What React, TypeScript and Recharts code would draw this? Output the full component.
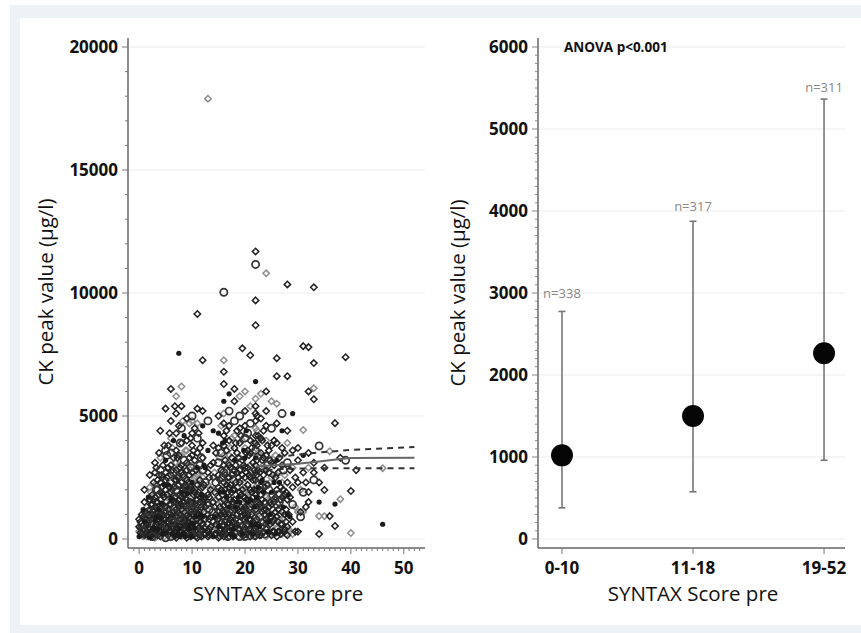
import React from 'react';
import { ScatterChart, Scatter, XAxis, YAxis, ReferenceLine, ErrorBar } from 'recharts';

const FONT = '"Open Sans", "DejaVu Sans", sans-serif';

// SYNTAX score column -> CK peak values (µg/l)
const syntaxColumns: [number, number[]][] = [
  [0, [100, 300, 500, 800]],
  [0.5, [200, 600, 1000]],
  [1, [150, 400, 700, 1100, 1500, 2000]],
  [1.5, [100, 300, 600, 900, 1300]],
  [2, [50, 200, 400, 650, 900, 1200, 1600, 2100, 2600]],
  [2.5, [100, 350, 700, 1000, 1400, 1800]],
  [3, [50, 250, 500, 750, 1000, 1150, 1300, 1700, 2200, 2700, 3100]],
  [3.5, [150, 400, 800, 1100, 1500, 2000, 2400]],
  [4, [100, 300, 550, 850, 1050, 1250, 1600, 1900, 2300, 2800, 3300, 4400]],
  [4.5, [200, 450, 700, 1000, 1400, 1800, 2500, 3000]],
  [5, [50, 250, 500, 800, 1100, 1300, 1500, 2000, 2400, 2700, 3200, 3600, 5300]],
  [5.5, [150, 400, 650, 900, 1200, 1700, 2200, 2900, 3800]],
  [6, [100, 300, 600, 850, 1000, 1400, 1650, 1900, 2300, 2600, 3000, 3500, 4100, 4800, 6100]],
  [6.5, [200, 500, 750, 1100, 1500, 1800, 2100, 2700, 3300, 4000]],
  [7, [50, 250, 450, 700, 950, 1200, 1500, 1700, 2000, 2400, 2800, 3100, 3600, 4300, 5100, 5800]],
  [7.5, [150, 400, 600, 900, 1300, 1600, 2200, 2600, 3400, 4600, 7550]],
  [8, [100, 300, 550, 800, 1000, 1200, 1400, 1700, 1900, 2300, 2700, 3000, 3400, 3900, 4500, 5400, 6200]],
  [8.5, [200, 450, 750, 1100, 1500, 1800, 2100, 2500, 3200, 4200]],
  [9, [50, 250, 500, 700, 950, 1150, 1350, 1600, 1850, 2100, 2400, 2800, 3100, 3600, 4000, 4900]],
  [9.5, [150, 400, 650, 900, 1250, 1550, 2000, 2600, 3300, 4700]],
  [10, [100, 300, 500, 750, 1000, 1200, 1450, 1700, 2000, 2300, 2700, 3000, 3400, 3800, 4300, 4800, 5000]],
  [10.5, [200, 450, 800, 1100, 1400, 1900, 2500, 3200, 4500]],
  [11, [50, 250, 550, 800, 1050, 1300, 1600, 1800, 2200, 2600, 2900, 3500, 4100, 4700, 5300, 9150]],
  [11.5, [150, 400, 700, 1000, 1500, 2000, 2400, 3000, 3700]],
  [12, [100, 350, 600, 900, 1200, 1500, 1750, 2100, 2500, 2800, 3300, 3900, 4600, 5200, 7270]],
  [12.5, [200, 500, 800, 1300, 1700, 2300, 2900]],
  [13, [100, 300, 600, 1000, 1400, 1800, 2200, 2700, 3600, 4800, 17900]],
  [13.5, [200, 500, 900, 1300, 2000, 3000]],
  [14, [100, 350, 700, 1100, 1500, 2000, 2500, 3100, 3800, 4400]],
  [14.5, [200, 600, 1000, 1600, 2300, 3500]],
  [15, [50, 250, 500, 800, 1100, 1400, 1700, 2100, 2600, 3100, 3700, 4300, 5000]],
  [15.5, [150, 400, 700, 1000, 1500, 2000, 2800, 3500, 4600]],
  [16, [100, 300, 550, 850, 1100, 1350, 1600, 1900, 2300, 2700, 3000, 3400, 3800, 4200, 4700, 5100, 5600, 6300, 6800, 7270, 10030]],
  [16.5, [200, 450, 750, 1200, 1700, 2200, 2900, 3600, 4400]],
  [17, [100, 350, 650, 1000, 1300, 1700, 2100, 2500, 3000, 3400, 4000, 4600, 5200, 5900]],
  [17.5, [200, 500, 900, 1400, 1900, 2600, 3300, 4100]],
  [18, [100, 300, 600, 900, 1200, 1600, 2000, 2400, 2800, 3200, 3700, 4200, 4800, 5600, 6100]],
  [18.5, [250, 600, 1000, 1500, 2100, 2700, 3500, 4400]],
  [19, [100, 400, 700, 1100, 1500, 1900, 2300, 2800, 3300, 3900, 4500, 5000, 5800]],
  [19.5, [200, 550, 950, 1400, 2000, 2600, 3200, 4000, 7750]],
  [20, [100, 350, 650, 1000, 1300, 1700, 2100, 2500, 2900, 3300, 3700, 4100, 4600, 5200, 6000]],
  [20.5, [250, 600, 1000, 1500, 2200, 2900, 3600, 4300]],
  [21, [100, 400, 800, 1200, 1600, 2000, 2500, 3000, 3500, 4000, 4700, 5400, 7470]],
  [21.5, [200, 600, 1100, 1700, 2400, 3100, 3900]],
  [22, [100, 300, 600, 900, 1200, 1500, 1800, 2100, 2400, 2700, 3000, 3300, 3600, 3900, 4200, 4500, 4800, 5100, 5400, 5700, 6400, 8690, 9700, 11160, 11690]],
  [22.5, [200, 550, 1000, 1500, 2100, 2800, 3500, 4200]],
  [23, [150, 450, 850, 1300, 1800, 2300, 2900, 3500, 4100, 4900, 5900]],
  [23.5, [300, 700, 1200, 1900, 2600, 3300, 4400]],
  [24, [100, 400, 800, 1200, 1700, 2200, 2800, 3400, 4000, 4600, 5200, 6000, 10800]],
  [24.5, [250, 700, 1300, 2000, 2700, 3600]],
  [25, [150, 500, 900, 1400, 1900, 2500, 3100, 3800, 4500, 5600]],
  [25.5, [300, 800, 1500, 2300, 3000, 4000]],
  [26, [100, 450, 900, 1400, 2000, 2600, 3200, 3900, 4700, 5500, 6620, 7350]],
  [26.5, [300, 800, 1500, 2300, 3300]],
  [27, [200, 600, 1100, 1700, 2300, 3000, 3700, 4400, 5100]],
  [27.5, [400, 1000, 1800, 2600, 3500]],
  [28, [150, 500, 1000, 1600, 2300, 3100, 3900, 4400, 6620, 10350]],
  [28.5, [300, 900, 1700, 2800]],
  [29, [200, 700, 1400, 2100, 2900, 3600, 5100]],
  [30, [300, 1100, 2300, 3200, 3700]],
  [31, [1100, 1900, 2700, 3400, 4430, 7840]],
  [32, [1500, 1910, 2900, 3500, 6000, 7800]],
  [33, [2400, 2700, 3100, 5680, 6130, 7150, 10230]],
  [34, [200, 930, 1500, 2300, 3780]],
  [35, [930, 1990, 2900]],
  [36, [930, 3570]],
  [37, [530, 1420, 4710]],
  [38, [1620, 3300]],
  [39, [3200, 7390]],
  [40, [240, 1950]],
  [41, [2800]],
  [46, [600, 2880]],
];

// further patients between the main score columns
const syntaxColumnsB: [number, number[]][] = [
  [0.25, [250, 450, 700]],
  [0.75, [100, 350, 550, 900, 1200]],
  [1.25, [200, 500, 800, 1000]],
  [1.75, [150, 450, 750, 1100, 1700]],
  [2.25, [100, 300, 550, 800, 1050, 1400, 1900]],
  [2.75, [200, 450, 600, 850, 1150, 1600, 2300]],
  [3.25, [100, 350, 600, 900, 1250, 1500, 2000, 2900]],
  [3.75, [200, 450, 700, 950, 1200, 1800, 2600, 3500]],
  [4.25, [150, 400, 650, 900, 1150, 1450, 2100, 2600]],
  [4.75, [100, 300, 600, 800, 1100, 1700, 2200, 3800]],
  [5.25, [200, 450, 700, 950, 1250, 1800, 2500, 3400]],
  [5.75, [100, 350, 550, 800, 1050, 1400, 2100, 4300]],
  [6.25, [200, 450, 700, 950, 1200, 1600, 2000, 2800, 3700]],
  [6.75, [100, 300, 600, 850, 1300, 1700, 2400, 3100, 5400]],
  [7.25, [200, 400, 650, 900, 1100, 1400, 1900, 2500, 3300]],
  [7.75, [100, 350, 550, 800, 1000, 1250, 1800, 2900, 3900]],
  [8.25, [200, 400, 650, 900, 1150, 1500, 2000, 2600, 4800]],
  [8.75, [100, 300, 600, 850, 1300, 1650, 2200, 3600]],
  [9.25, [200, 450, 700, 1000, 1400, 1900, 2300, 3000]],
  [9.75, [100, 350, 600, 850, 1100, 1500, 2100, 2900, 4100]],
  [10.25, [200, 400, 650, 950, 1300, 1800, 2400, 3600]],
  [10.75, [100, 350, 600, 900, 1200, 1600, 2200, 2800]],
  [11.25, [200, 450, 700, 1000, 1400, 1900, 2700, 4300]],
  [11.75, [100, 350, 600, 900, 1300, 1800, 2300, 3300]],
  [12.25, [200, 450, 800, 1100, 1600, 2200, 3000]],
  [13.25, [150, 400, 800, 1200, 1700, 2500]],
  [14.25, [200, 500, 900, 1300, 1900, 2700]],
  [15.25, [100, 350, 700, 1000, 1300, 1900, 2400, 3300]],
  [15.75, [200, 550, 900, 1200, 1800, 2500, 3900]],
  [16.25, [150, 400, 700, 1000, 1500, 2000, 2600, 3200, 4000]],
  [16.75, [100, 300, 600, 900, 1400, 1900, 2500, 3100]],
  [17.25, [200, 500, 800, 1200, 1600, 2200, 2900, 3700]],
  [17.75, [100, 400, 700, 1100, 1500, 2000, 2700]],
  [18.25, [200, 500, 800, 1300, 1800, 2300, 3000, 3900]],
  [18.75, [100, 400, 750, 1200, 1700, 2500, 3300]],
  [19.25, [200, 500, 900, 1300, 1800, 2400, 3100, 4200]],
  [19.75, [150, 450, 800, 1200, 1700, 2300, 3000, 3600]],
  [20.25, [200, 500, 850, 1200, 1600, 2000, 2700, 3500, 4400]],
  [20.75, [100, 400, 800, 1300, 1900, 2600, 3400]],
  [21.25, [250, 600, 1000, 1400, 1900, 2700, 3700]],
  [21.75, [150, 450, 850, 1300, 2000, 2800, 3500]],
  [22.25, [200, 500, 800, 1100, 1400, 1700, 2000, 2300, 2600, 3200, 3800, 4400, 5000]],
  [22.75, [150, 500, 900, 1400, 2000, 2700]],
  [23.25, [300, 700, 1100, 1600, 2400, 3200, 4000]],
  [23.75, [200, 600, 1000, 1500, 2100, 2900]],
  [24.25, [300, 700, 1100, 1600, 2200, 3000, 3800]],
  [24.75, [200, 600, 1000, 1500, 2300, 3200]],
  [25.25, [300, 700, 1200, 1800, 2600]],
  [25.75, [200, 600, 1100, 1700, 2500, 3400]],
  [26.25, [300, 700, 1200, 1800, 2700]],
  [26.75, [200, 600, 1000, 1600, 2100]],
  [27.25, [300, 800, 1300, 2000, 2800]],
  [27.75, [200, 700, 1200, 1900]],
  [28.25, [400, 1000, 1800]],
  [29.5, [300, 1300, 2500]],
  [30.5, [900, 1100, 2000]],
  [31.5, [1300, 2300]],
];

// regression fit and confidence band
const fitX = [22, 24, 30, 34, 38, 40, 52];
const fitY = [2950, 2980, 3060, 3150, 3250, 3290, 3300];
const upperX = [22, 28, 32, 40, 52];
const upperY = [3250, 3380, 3480, 3620, 3740];
const lowerX = [22, 28, 34, 52];
const lowerY = [2780, 2850, 2880, 2880];

// right panel
const groups = ['0-10', '11-18', '19-52'];
const groupMean = [1020, 1500, 2265];
const groupLow = [380, 575, 960];
const groupHigh = [2775, 3875, 5365];
const groupN = ['n=338', 'n=317', 'n=311'];
const nLabelY = [3000, 4050, 5510];

const leftYMajor = [0, 5000, 10000, 15000, 20000];
const leftXMajor = [0, 10, 20, 30, 40, 50];
const rightYMajor = [0, 1000, 2000, 3000, 4000, 5000, 6000];

const leftYTicks: number[] = [];
for (let v = 0; v <= 20000; v += 1000) leftYTicks.push(v);
const leftXTicks: number[] = [];
for (let v = -1; v <= 53; v += 1) leftXTicks.push(v);
const rightYTicks: number[] = [];
for (let v = 0; v <= 6000; v += 100) rightYTicks.push(v);

const allPoints = [...syntaxColumns, ...syntaxColumnsB].flatMap(([x, ys]) => ys.map((y) => ({ x, y })));
const darkPts = allPoints.filter((_, i) => i % 4 !== 1 && i % 9 !== 0 && i % 11 !== 5);
const grayPts = allPoints.filter((_, i) => i % 4 === 1 && i % 9 !== 0 && i % 11 !== 5);
const blackPts = allPoints.filter((_, i) => i % 9 === 0 && i % 11 !== 5);
const bigPts = allPoints.filter((_, i) => i % 11 === 5);

const fitData = fitX.map((x, i) => ({ x, y: fitY[i] }));
const upperData = upperX.map((x, i) => ({ x, y: upperY[i] }));
const lowerData = lowerX.map((x, i) => ({ x, y: lowerY[i] }));

const groupData = groups.map((g, i) => ({
  x: i,
  y: groupMean[i],
  err: [groupMean[i] - groupLow[i], groupHigh[i] - groupMean[i]],
}));
const nData = groups.map((g, i) => ({ x: i, y: nLabelY[i], label: groupN[i] }));

const diamond = (stroke: string, r: number, sw: number) => (props: any) => {
  const { cx, cy } = props;
  if (cx == null || cy == null) return <g />;
  return (
    <path
      d={`M${cx},${cy - r}L${cx + r},${cy}L${cx},${cy + r}L${cx - r},${cy}Z`}
      fill="none"
      stroke={stroke}
      strokeWidth={sw}
    />
  );
};
const blackDot = (props: any) => {
  const { cx, cy } = props;
  if (cx == null || cy == null) return <g />;
  return <circle cx={cx} cy={cy} r={2.6} fill="#1a1a1a" />;
};
const bigRing = (props: any) => {
  const { cx, cy } = props;
  if (cx == null || cy == null) return <g />;
  return <circle cx={cx} cy={cy} r={3.6} fill="none" stroke="#333" strokeWidth={1.7} />;
};
const noShape = () => <g />;

const tickTextStyle = {
  fontFamily: FONT,
  fontWeight: 700,
  fontSize: 17,
  fill: '#111',
};

const LeftYTick = (props: any) => {
  const { x, y, payload } = props;
  const v = payload.value;
  const major = v % 5000 === 0;
  return (
    <g>
      <line x1={x} x2={x - (major ? 6 : 3)} y1={y} y2={y} stroke="#777" strokeWidth={1} />
      {major && (
        <text x={x - 10} y={y + 6} textAnchor="end" {...tickTextStyle}>
          {v}
        </text>
      )}
    </g>
  );
};

const LeftXTick = (props: any) => {
  const { x, y, payload } = props;
  const v = payload.value;
  const major = leftXMajor.includes(v);
  return (
    <g>
      <line x1={x} x2={x} y1={y} y2={y + (major ? 6 : 3)} stroke="#777" strokeWidth={1} />
      {major && (
        <text x={x} y={y + 26} textAnchor="middle" {...tickTextStyle}>
          {v}
        </text>
      )}
    </g>
  );
};

const RightYTick = (props: any) => {
  const { x, y, payload } = props;
  const v = payload.value;
  const major = v % 1000 === 0;
  return (
    <g>
      <line x1={x} x2={x - (major ? 6 : 3)} y1={y} y2={y} stroke="#888" strokeWidth={1} />
      {major && (
        <text x={x - 10} y={y + 6} textAnchor="end" {...tickTextStyle}>
          {v}
        </text>
      )}
    </g>
  );
};

const RightXTick = (props: any) => {
  const { x, y, payload } = props;
  const v = payload.value;
  return (
    <g>
      <line x1={x} x2={x} y1={y} y2={y + 6} stroke="#777" strokeWidth={1} />
      <text x={x} y={y + 26} textAnchor="middle" {...tickTextStyle}>
        {groups[v]}
      </text>
    </g>
  );
};

const bigDot = (props: any) => {
  const { cx, cy } = props;
  if (cx == null || cy == null) return <g />;
  return <circle cx={cx} cy={cy} r={11} fill="#050505" />;
};

const nLabel = (props: any) => {
  const { cx, cy, payload } = props;
  if (cx == null || cy == null) return <g />;
  return (
    <text x={cx} y={cy + 4.5} textAnchor="middle" fontFamily={FONT} fontSize={13} fill="#888">
      {payload.label}
    </text>
  );
};

const titleStyle: React.CSSProperties = {
  position: 'absolute',
  fontFamily: FONT,
  fontSize: 20.5,
  color: '#111',
  whiteSpace: 'nowrap',
  lineHeight: 1,
};

export default function App() {
  return (
    <div style={{ position: 'absolute', left: 0, top: 0, width: 861, height: 633, background: '#fff', overflow: 'hidden' }}>
      <div style={{ position: 'absolute', left: 10, top: 5, width: 851, height: 628, background: '#edf2f6' }} />
      <div style={{ position: 'absolute', left: 20, top: 18, width: 841, height: 607, background: '#fff' }} />

      <div style={{ position: 'absolute', left: 0, top: 0 }}>
        <ScatterChart width={440} height={633} margin={{ top: 38, right: 15, bottom: 0, left: 0 }}>
          <XAxis
            type="number"
            dataKey="x"
            domain={[-2.1, 54]}
            ticks={leftXTicks}
            interval={0}
            allowDataOverflow
            height={85}
            tickSize={0}
            tickMargin={0}
            tickLine={false}
            axisLine={{ stroke: '#666', strokeWidth: 1.5 }}
            tick={<LeftXTick />}
          />
          <YAxis
            type="number"
            dataKey="y"
            domain={[-366, 20366]}
            ticks={leftYTicks}
            interval={0}
            allowDataOverflow
            width={128}
            tickSize={0}
            tickMargin={0}
            tickLine={false}
            axisLine={{ stroke: '#666', strokeWidth: 1.5 }}
            tick={<LeftYTick />}
          />
          {leftYMajor.map((v) => (
            <ReferenceLine key={v} y={v} stroke="#ececec" strokeWidth={1} />
          ))}
          <Scatter data={grayPts} shape={diamond('#8e8e8e', 3.2, 1.5)} isAnimationActive={false} />
          <Scatter data={darkPts} shape={diamond('#222', 3.2, 1.5)} isAnimationActive={false} />
          <Scatter data={bigPts} shape={bigRing} isAnimationActive={false} />
          <Scatter data={blackPts} shape={blackDot} isAnimationActive={false} />
          <Scatter data={fitData} line={{ stroke: '#666', strokeWidth: 2 }} shape={noShape} isAnimationActive={false} />
          <Scatter data={upperData} line={{ stroke: '#333', strokeWidth: 2, strokeDasharray: '6 5' }} shape={noShape} isAnimationActive={false} />
          <Scatter data={lowerData} line={{ stroke: '#333', strokeWidth: 2, strokeDasharray: '6 5' }} shape={noShape} isAnimationActive={false} />
        </ScatterChart>
      </div>

      <div style={{ position: 'absolute', left: 430, top: 0 }}>
        <ScatterChart width={431} height={633} margin={{ top: 38, right: 16, bottom: 0, left: 0 }}>
          <XAxis
            type="number"
            dataKey="x"
            domain={[-0.183, 2.16]}
            ticks={[0, 1, 2]}
            interval={0}
            allowDataOverflow
            height={85}
            tickSize={0}
            tickMargin={0}
            tickLine={false}
            axisLine={{ stroke: '#666', strokeWidth: 1.5 }}
            tick={<RightXTick />}
          />
          <YAxis
            type="number"
            dataKey="y"
            domain={[-110, 6110]}
            ticks={rightYTicks}
            interval={0}
            allowDataOverflow
            width={108}
            tickSize={0}
            tickMargin={0}
            tickLine={false}
            axisLine={{ stroke: '#666', strokeWidth: 1.5 }}
            tick={<RightYTick />}
          />
          {rightYMajor.map((v) => (
            <ReferenceLine key={v} y={v} stroke="#ececec" strokeWidth={1} />
          ))}
          <Scatter data={groupData} shape={noShape} isAnimationActive={false}>
            <ErrorBar dataKey="err" direction="y" width={3.5} stroke="#777" strokeWidth={1.6} />
          </Scatter>
          <Scatter data={groupData} shape={bigDot} isAnimationActive={false} />
          <Scatter data={nData} shape={nLabel} isAnimationActive={false} />
        </ScatterChart>
      </div>

      <div style={{ ...titleStyle, left: 45, top: 292, transform: 'translate(-50%, -50%) rotate(-90deg)' }}>
        CK peak value (µg/l)
      </div>
      <div style={{ ...titleStyle, left: 457, top: 293, transform: 'translate(-50%, -50%) rotate(-90deg)' }}>
        CK peak value (µg/l)
      </div>
      <div style={{ ...titleStyle, left: 278, top: 593, transform: 'translate(-50%, -50%)' }}>SYNTAX Score pre</div>
      <div style={{ ...titleStyle, left: 693, top: 593, transform: 'translate(-50%, -50%)' }}>SYNTAX Score pre</div>
      <div style={{ ...titleStyle, left: 564, top: 48, fontSize: 13.5, fontWeight: 700, transform: 'translate(0, -50%)' }}>
        ANOVA p&lt;0.001
      </div>
    </div>
  );
}
